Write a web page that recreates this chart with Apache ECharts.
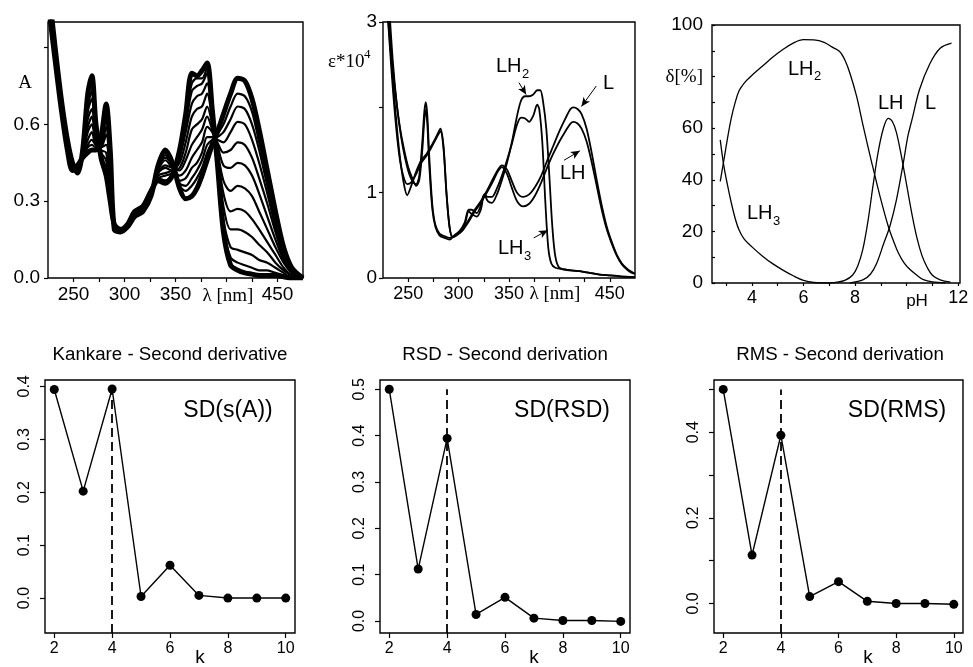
<!DOCTYPE html>
<html>
<head>
<meta charset="utf-8">
<script src="https://cdn.jsdelivr.net/npm/echarts@6/dist/echarts.min.js"></script>
<style>
  html, body { margin: 0; padding: 0; background: #fff; }
  #chart { width: 973px; height: 667px; }
</style>
</head>
<body>
<div id="chart"></div>
<script>
// ---------- Absorption spectra recorded over the pH titration (A vs wavelength) ----------
const absLam = [226,232,238,244,249,254,259,264,268,272,277,282,286,290,296,303,310,318,326,333,340,347,354,360,366,371,376,381,386,391,397,404,411,418,425,432,440,448,456,464,475];
const absLowPH = [1.12,0.90,0.70,0.54,0.45,0.41,0.50,0.72,0.79,0.60,0.47,0.40,0.30,0.21,0.19,0.21,0.26,0.28,0.34,0.38,0.37,0.40,0.50,0.64,0.80,0.79,0.81,0.84,0.66,0.45,0.18,0.05,0.03,0.02,0.015,0.01,0.01,0.01,0.005,0,0];
const absHighPH = [1.05,0.85,0.66,0.50,0.42,0.44,0.47,0.49,0.50,0.50,0.55,0.68,0.50,0.19,0.18,0.20,0.24,0.26,0.32,0.44,0.50,0.45,0.35,0.31,0.32,0.35,0.40,0.46,0.52,0.57,0.64,0.72,0.78,0.77,0.70,0.58,0.42,0.26,0.12,0.04,0];
const absMiddle = [
  [1.12,0.90,0.70,0.54,0.45,0.41,0.50,0.71,0.78,0.60,0.47,0.41,0.31,0.21,0.19,0.21,0.26,0.28,0.34,0.38,0.38,0.40,0.49,0.63,0.76,0.78,0.78,0.82,0.65,0.45,0.20,0.08,0.06,0.05,0.04,0.03,0.03,0.02,0.01,0.00,0],
  [1.11,0.89,0.70,0.54,0.45,0.41,0.50,0.70,0.76,0.59,0.48,0.43,0.32,0.21,0.19,0.21,0.26,0.28,0.34,0.39,0.38,0.41,0.48,0.60,0.73,0.75,0.76,0.80,0.64,0.46,0.23,0.12,0.11,0.10,0.09,0.07,0.06,0.04,0.02,0.00,0],
  [1.11,0.89,0.69,0.53,0.44,0.42,0.49,0.67,0.73,0.58,0.49,0.46,0.34,0.21,0.19,0.21,0.26,0.28,0.34,0.39,0.40,0.41,0.47,0.57,0.68,0.71,0.72,0.76,0.63,0.48,0.28,0.19,0.19,0.18,0.16,0.13,0.10,0.06,0.03,0.01,0],
  [1.10,0.88,0.69,0.53,0.44,0.42,0.49,0.65,0.70,0.57,0.50,0.49,0.36,0.20,0.19,0.21,0.25,0.27,0.33,0.40,0.41,0.42,0.45,0.53,0.63,0.66,0.67,0.72,0.62,0.49,0.33,0.26,0.27,0.26,0.23,0.19,0.14,0.09,0.04,0.01,0],
  [1.09,0.88,0.68,0.52,0.44,0.42,0.49,0.62,0.66,0.56,0.51,0.52,0.39,0.20,0.19,0.21,0.25,0.27,0.33,0.41,0.43,0.42,0.43,0.49,0.58,0.60,0.62,0.67,0.60,0.50,0.38,0.34,0.36,0.35,0.32,0.26,0.19,0.12,0.06,0.02,0],
  [1.08,0.87,0.68,0.52,0.43,0.43,0.48,0.59,0.63,0.54,0.51,0.56,0.41,0.20,0.18,0.20,0.25,0.27,0.33,0.41,0.44,0.43,0.42,0.46,0.52,0.55,0.58,0.63,0.58,0.52,0.44,0.43,0.45,0.44,0.40,0.33,0.24,0.15,0.07,0.02,0],
  [1.07,0.87,0.67,0.51,0.43,0.43,0.48,0.57,0.60,0.53,0.52,0.59,0.43,0.20,0.18,0.20,0.25,0.27,0.33,0.42,0.46,0.43,0.40,0.42,0.47,0.50,0.53,0.59,0.57,0.53,0.49,0.50,0.53,0.52,0.47,0.39,0.29,0.18,0.08,0.03,0],
  [1.07,0.86,0.67,0.51,0.43,0.43,0.48,0.54,0.57,0.52,0.53,0.62,0.45,0.19,0.18,0.20,0.24,0.26,0.32,0.43,0.47,0.44,0.38,0.39,0.43,0.45,0.49,0.55,0.55,0.54,0.53,0.57,0.61,0.60,0.54,0.45,0.33,0.20,0.09,0.03,0],
  [1.06,0.86,0.67,0.51,0.42,0.44,0.47,0.52,0.54,0.52,0.54,0.64,0.47,0.19,0.18,0.20,0.24,0.26,0.32,0.43,0.48,0.44,0.37,0.36,0.39,0.42,0.46,0.52,0.54,0.55,0.57,0.62,0.67,0.66,0.60,0.50,0.36,0.22,0.10,0.03,0],
  [1.06,0.85,0.66,0.50,0.42,0.44,0.47,0.51,0.52,0.51,0.54,0.66,0.48,0.19,0.18,0.20,0.24,0.26,0.32,0.44,0.49,0.45,0.36,0.34,0.36,0.39,0.43,0.49,0.53,0.56,0.60,0.67,0.72,0.71,0.65,0.53,0.39,0.24,0.11,0.04,0]
];
const absTicks = [250,275,300,325,350,375,400,425,450];
const absTickLabels = [250,300,350,450];

// ---------- Molar absorptivity of the individual species (eps * 1e-4) ----------
const epsL = [[229,3.2],[233,2.6],[237,2.0],[241,1.5],[245,1.15],[249,0.97],[253,1.08],[258,1.25],[263,1.38],[268,1.45],[273,1.55],[278,1.66],[282,1.75],[285,1.55],[288,1.0],[291,0.6],[294,0.48],[298,0.5],[304,0.56],[310,0.68],[316,0.8],[322,0.9],[328,1.02],[334,1.16],[339,1.27],[343,1.32],[348,1.27],[353,1.13],[358,1.0],[364,0.95],[370,0.98],[376,1.07],[382,1.2],[388,1.38],[394,1.55],[400,1.72],[406,1.87],[411,1.98],[414,2.0],[418,1.98],[422,1.92],[427,1.75],[432,1.47],[437,1.15],[442,0.85],[447,0.6],[452,0.42],[457,0.27],[462,0.17],[467,0.11],[472,0.07],[475,0.05]];
const epsLH = [[229,3.2],[233,2.5],[237,1.9],[241,1.45],[245,1.2],[249,1.1],[253,1.12],[258,1.22],[263,1.35],[268,1.43],[273,1.53],[278,1.64],[282,1.72],[285,1.52],[288,0.98],[291,0.6],[294,0.48],[298,0.5],[304,0.56],[310,0.66],[316,0.78],[322,0.88],[328,1.0],[334,1.13],[339,1.25],[343,1.3],[348,1.22],[353,1.05],[358,0.9],[364,0.84],[370,0.87],[376,0.97],[382,1.12],[388,1.3],[394,1.46],[400,1.6],[406,1.72],[411,1.81],[414,1.83],[418,1.81],[422,1.75],[427,1.6],[432,1.36],[437,1.08],[442,0.8],[447,0.57],[452,0.4],[457,0.26],[462,0.16],[467,0.1],[472,0.06],[475,0.05]];
const epsLH2 = [[231,3.2],[235,2.5],[239,2.0],[243,1.65],[247,1.4],[251,1.22],[255,1.12],[258,1.1],[261,1.2],[264,1.6],[266,1.95],[267.5,2.06],[269,1.9],[271,1.4],[274,0.85],[277,0.62],[281,0.52],[286,0.49],[291,0.47],[296,0.5],[301,0.55],[306,0.62],[310,0.78],[313,0.75],[318,0.72],[322,0.8],[325.5,0.98],[329,0.9],[333,0.88],[338,0.98],[343,1.15],[348,1.35],[353,1.6],[358,1.9],[362,2.08],[366,2.13],[370,2.13],[374,2.15],[378,2.2],[381,2.2],[384,2.05],[387,1.75],[390,1.2],[393,0.6],[396,0.25],[400,0.12],[410,0.09],[420,0.08],[430,0.06],[440,0.04],[450,0.03],[460,0.02],[475,0.01]];
const epsLH3 = [[230,3.2],[234,2.55],[238,2.1],[242,1.75],[246,1.5],[250,1.3],[254,1.17],[258,1.08],[261,1.15],[264,1.5],[266,1.85],[267.5,1.97],[269,1.8],[271,1.3],[274,0.8],[277,0.6],[281,0.5],[286,0.47],[291,0.45],[296,0.5],[301,0.55],[306,0.65],[310,0.8],[313,0.8],[318,0.76],[322,0.85],[325.5,0.98],[329,0.95],[333,0.95],[338,1.05],[343,1.2],[348,1.38],[353,1.58],[358,1.8],[362,1.88],[366,1.87],[370,1.83],[374,1.9],[378,2.03],[380,1.98],[383,1.6],[386,0.9],[389,0.35],[392,0.17],[396,0.12],[405,0.1],[420,0.08],[430,0.06],[440,0.04],[450,0.03],[460,0.02],[475,0.01]];

// ---------- Species distribution vs pH (%) ----------
const distLH3 = [[2.77,55.5],[2.9,46],[3.05,38],[3.2,31],[3.35,25],[3.5,20.5],[3.7,17],[4.0,14],[4.4,10.5],[4.8,7.5],[5.2,5],[5.6,2.8],[6.0,1],[6.4,0.2],[7.0,0]];
const distLH2 = [[2.77,39.4],[2.9,47],[3.05,56],[3.2,64],[3.35,70],[3.5,74.5],[3.7,77.5],[4.0,80.5],[4.4,84],[4.8,87.5],[5.2,90.5],[5.6,93],[6.0,94.3],[6.4,94.2],[6.8,93.3],[7.1,91.5],[7.4,89.7],[7.6,86.5],[7.8,81.3],[8.06,72.3],[8.32,60.6],[8.65,46.5],[8.97,33.5],[9.29,21.9],[9.5,16],[9.68,11.6],[9.9,7.8],[10.13,5.2],[10.4,3],[10.65,1.3],[11.0,0.4],[11.5,0]];
const distLH = [[7.0,0],[7.3,0.3],[7.6,1],[7.9,3],[8.1,6.5],[8.3,13],[8.5,24],[8.7,38],[8.9,51],[9.1,60],[9.29,63.8],[9.45,62.5],[9.6,58.5],[9.8,49],[10.0,38],[10.2,27],[10.4,17.5],[10.6,10.5],[10.8,6],[11.0,3],[11.3,1.2],[11.7,0.3]];
const distL = [[7.8,0],[8.32,1.3],[8.6,3.5],[8.84,7.7],[9.1,15],[9.35,22],[9.6,32],[9.87,46.5],[10.05,57],[10.2,63],[10.5,75],[10.9,85],[11.3,91],[11.74,93]];
const pHTicks = [3,4,5,6,7,8,9,10,11,12];
const pHTickLabels = [4,6,8,12];
const pctTicks = [0,10,20,30,40,50,60,70,80,90,100];
const pctTickLabels = [0,20,40,60,80,100];

// ---------- Second-derivative criteria vs number of components k ----------
const kValues = [2,3,4,5,6,7,8,9,10];
const sdKankare = [0.394,0.202,0.395,0.003,0.062,0.005,0,0,0];
const sdRSD = [0.500,0.112,0.394,0.014,0.051,0.006,0.001,0.001,-0.001];
const sdRMS = [0.500,0.113,0.393,0.016,0.051,0.005,0,0,-0.002];
const kTicks = [2,4,6,8,10];

const SANS = '"Liberation Sans", Arial, Helvetica, sans-serif';
const SERIF = '"Liberation Serif", "Times New Roman", Times, serif';
const BLACK = '#000';

const chart = echarts.init(document.getElementById('chart'), null, { renderer: 'canvas' });

function frame(left, top, width, height) {
  return { left, top, width, height, show: true, borderColor: BLACK, borderWidth: 1.4,
           backgroundColor: 'transparent', containLabel: false };
}
function valueAxis(gridIndex, min, max, ticks, labels, o) {
  o = o || {};
  return {
    type: 'value', gridIndex, min, max,
    axisLine: { show: false, onZero: false },
    splitLine: { show: false },
    axisTick: { show: true, inside: !!o.inside, length: o.tickLen || 4, customValues: ticks,
                lineStyle: { color: BLACK, width: 1.2 } },
    axisLabel: { show: true, customValues: labels, color: BLACK, fontFamily: SANS,
                 fontSize: o.fontSize || 19, margin: o.margin || 6, rotate: o.rotate || 0,
                 formatter: o.formatter, rich: o.rich }
  };
}
const fmt1 = v => v.toFixed(1);
const kPad = 0.32;

const pair = (xs, ys) => xs.map((x, i) => [x, ys[i]]);
const kSeries = (gi, ys, top, ymin) => ({
  type: 'line', xAxisIndex: gi, yAxisIndex: gi, data: pair(kValues, ys),
  symbol: 'circle', symbolSize: 9, showSymbol: true,
  itemStyle: { color: BLACK }, lineStyle: { color: BLACK, width: 1.4 },
  markLine: { silent: true, symbol: 'none', label: { show: false },
              lineStyle: { color: BLACK, width: 1.8, type: [9, 5] },
              data: [[{ coord: [4, ymin] }, { coord: [4, top] }]] }
});

const series = [];
// panel 1: titration spectra (intermediates thin, limiting curves heavy)
absMiddle.forEach(c => series.push({ type: 'line', xAxisIndex: 0, yAxisIndex: 0, data: pair(absLam, c),
  showSymbol: false, smooth: 0.3, lineStyle: { color: BLACK, width: 2.2 } }));
[absLowPH, absHighPH].forEach(c => series.push({ type: 'line', xAxisIndex: 0, yAxisIndex: 0, data: pair(absLam, c),
  showSymbol: false, smooth: 0.3, lineStyle: { color: BLACK, width: 5 } }));
// panel 2: species spectra, with pointer arrows to the labels
[epsL, epsLH, epsLH2, epsLH3].forEach((c, i) => series.push({ type: 'line', xAxisIndex: 1, yAxisIndex: 1, data: c,
  showSymbol: false, smooth: 0.3, lineStyle: { color: BLACK, width: 1.8 },
  markLine: i === 0 ? { silent: true, symbol: ['none', 'arrow'], symbolSize: [6, 9], label: { show: false },
    lineStyle: { color: BLACK, width: 1, type: 'solid' },
    data: [
      [{ coord: [359.8, 2.29] }, { coord: [367, 2.15] }],
      [{ coord: [436.6, 2.25] }, { coord: [421.9, 2.01] }],
      [{ coord: [404.6, 1.38] }, { coord: [420.3, 1.49] }],
      [{ coord: [374.5, 0.47] }, { coord: [388.5, 0.56] }]
    ] } : undefined }));
// panel 3: distribution diagram
[distLH3, distLH2, distLH, distL].forEach(c => series.push({ type: 'line', xAxisIndex: 2, yAxisIndex: 2, data: c,
  showSymbol: false, smooth: 0.35, lineStyle: { color: BLACK, width: 1.3 } }));
// panels 4-6: SD criteria
series.push(kSeries(3, sdKankare, 0.395, -0.066));
series.push(kSeries(4, sdRSD, 0.5, -0.026));
series.push(kSeries(5, sdRMS, 0.5, -0.069));

function txt(x, y, text, size, family, align) {
  return { type: 'text', x, y, silent: true,
           style: { text, fontSize: size, fontFamily: family || SANS, fill: BLACK,
                    textAlign: align || 'center', textVerticalAlign: 'middle' } };
}

const option = {
  animation: false,
  backgroundColor: '#fff',
  grid: [
    frame(48, 22, 255, 256),
    frame(383, 22, 252, 256),
    frame(712, 25, 248, 258),
    frame(45, 380, 250, 253),
    frame(380, 380, 250, 253),
    frame(714, 380, 249, 253)
  ],
  xAxis: [
    valueAxis(0, 225, 475, absTicks, absTickLabels, { margin: 7 }),
    valueAxis(1, 225, 475, absTicks, absTickLabels, { margin: 7, fontSize: 18 }),
    valueAxis(2, 2.45, 12.07, pHTicks, pHTickLabels, { margin: 6, fontSize: 18, tickLen: 3 }),
    valueAxis(3, 2 - kPad, 10 + kPad, kTicks, kTicks, { fontSize: 16, margin: 8, tickLen: 5 }),
    valueAxis(4, 2 - kPad, 10 + kPad, kTicks, kTicks, { fontSize: 16, margin: 8, tickLen: 5 }),
    valueAxis(5, 2 - kPad, 10 + kPad, kTicks, kTicks, { fontSize: 16, margin: 8, tickLen: 5 })
  ],
  yAxis: [
    valueAxis(0, 0, 1.0, [0, 0.3, 0.6, 0.9], [0, 0.3, 0.6], { margin: 8, formatter: fmt1 }),
    valueAxis(1, 0, 3, [0, 1, 2, 3], [0, 1, 3], { margin: 6, fontSize: 19 }),
    valueAxis(2, 0, 100, pctTicks, pctTickLabels, { margin: 9, fontSize: 19, inside: true, tickLen: 3,
      formatter: v => v === 80 ? '{d|δ[%]}' : String(v),
      rich: { d: { fontFamily: SERIF, fontSize: 19, color: BLACK } } }),
    valueAxis(3, -0.066, 0.412, [0, 0.1, 0.2, 0.3, 0.4], [0, 0.1, 0.2, 0.3, 0.4], { fontSize: 16, margin: 12, rotate: 90, tickLen: 5, formatter: fmt1 }),
    valueAxis(4, -0.026, 0.52, [0, 0.1, 0.2, 0.3, 0.4, 0.5], [0, 0.1, 0.2, 0.3, 0.4, 0.5], { fontSize: 16, margin: 12, rotate: 90, tickLen: 5, formatter: fmt1 }),
    valueAxis(5, -0.069, 0.522, [0, 0.1, 0.2, 0.3, 0.4, 0.5], [0, 0.2, 0.4], { fontSize: 16, margin: 12, rotate: 90, tickLen: 5, formatter: fmt1 })
  ],
  series,
  graphic: [
    // panel 1
    txt(25, 83, 'A', 19, SERIF),
    txt(228, 296, 'λ [nm]', 19, SERIF),
    // panel 2
    txt(328, 62, 'ε*10', 19, SERIF, 'left'), txt(364, 55, '4', 13, SERIF, 'left'),
    txt(555, 294, 'λ [nm]', 19, SERIF),
    txt(496, 66, 'LH', 20, SANS, 'left'), txt(522, 74, '2', 13, SANS, 'left'),
    txt(603, 83, 'L', 20, SANS, 'left'),
    txt(560, 173, 'LH', 20, SANS, 'left'),
    txt(498, 248, 'LH', 20, SANS, 'left'), txt(524, 256, '3', 13, SANS, 'left'),
    // panel 3
    txt(788, 69, 'LH', 20, SANS, 'left'), txt(814, 76, '2', 13, SANS, 'left'),
    txt(878, 103, 'LH', 20, SANS, 'left'),
    txt(925, 103, 'L', 20, SANS, 'left'),
    txt(747, 213, 'LH', 20, SANS, 'left'), txt(773, 221, '3', 13, SANS, 'left'),
    txt(917, 301, 'pH', 17, SANS),
    // panels 4-6
    txt(170, 355, 'Kankare - Second derivative', 18.7),
    txt(505, 355, 'RSD - Second derivation', 18.7),
    txt(840, 355, 'RMS - Second derivation', 18.7),
    txt(228, 411, 'SD(s(A))', 23),
    txt(562, 411, 'SD(RSD)', 23),
    txt(897, 411, 'SD(RMS)', 23),
    txt(200, 658, 'k', 19),
    txt(534, 658, 'k', 19),
    txt(868, 658, 'k', 19)
  ]
};
chart.setOption(option);
</script>
</body>
</html>
